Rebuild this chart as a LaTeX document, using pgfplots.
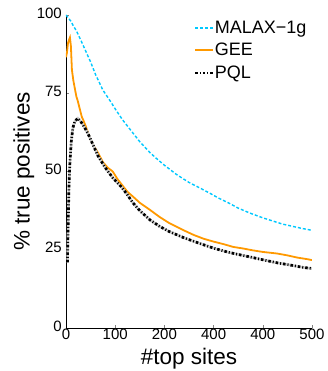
\documentclass[border=0pt]{standalone}
\usepackage{fontspec}
\setmainfont{Liberation Sans}
\usepackage{pgfplots}
\pgfplotsset{compat=1.18}
\definecolor{malax}{RGB}{0,200,255}
\definecolor{gee}{RGB}{255,153,0}
\begin{document}
\begin{tikzpicture}
\path[use as bounding box] (-66pt,-43pt) rectangle (261pt,328pt);
\begin{axis}[
  at={(0,0)}, anchor=south west,
  scale only axis, width=246pt, height=313pt,
  xmin=0, xmax=500, ymin=0, ymax=100,
  axis lines=left, axis line style={-, line width=0.8pt},
  xtick={0,100,200,300,400,500}, xticklabels={0,100,200,400,400,500},
  ytick={0,25,50,75,100},
  tick align=inside, major tick length=3pt,
  tick label style={font=\fontsize{15}{15}\selectfont},
  xticklabel style={inner sep=1pt},
  yticklabel style={inner sep=2pt, xshift=-2pt, yshift=2pt},
  /pgf/number format/assume math mode=true,
  xlabel={\#top sites}, ylabel={\% true positives},
  label style={font=\fontsize{22.5}{22.5}\selectfont},
  xlabel style={at={(axis description cs:0.5,-0.097)}, anchor=center},
  ylabel style={at={(axis description cs:-0.171,0.5)}, anchor=center},
  legend style={at={(axis description cs:0.52,0.985)}, anchor=north west,
    draw=none, fill=none, font=\fontsize{18}{18}\selectfont, inner sep=0pt,
    row sep=6.5pt, nodes={inner sep=1pt}},
  legend cell align=left,
]
\addplot[malax, line width=1.4pt, dash pattern=on 3pt off 2pt] coordinates {
(0,100)(5,99)(10,98)(15,96.5)(21,95)(30,92)(40,88.5)(50,85)(60,81)(75,76)(90,72.5)(100,70)(115,66.5)(125,64.5)(140,61.5)(150,59.5)(171,56)(185,54)(200,52)(225,49)(250,46.5)(275,44.5)(293,43)(310,41.5)(330,40)(350,38.3)(374,36.7)(400,35.2)(420,34.2)(440,33.2)(460,32.5)(480,31.8)(500,31.2)};
\addlegendentry{MALAX\textminus1g}
\addplot[gee, line width=1.8pt] coordinates {
(0,86.5)(2,88)(4,91)(6,92)(8,92.8)(10,90)(12,82.5)(15,79)(21,74)(24,72.5)(28,70)(32,67.5)(35,66.5)(40,64.5)(49,60.5)(57,58)(65,56)(75,53)(85,51.2)(95,50)(105,47.5)(115,45.5)(125,43.5)(136,42)(150,40)(171,37.7)(190,35.5)(210,33.5)(238,31.3)(260,29.7)(280,28.5)(300,27.6)(320,26.8)(340,25.9)(360,25.4)(380,24.8)(400,24.3)(429,23.8)(450,23.2)(470,22.5)(490,22)(500,21.7)};
\addlegendentry{GEE}
\addplot[gray!40, line width=2.5pt, forget plot] coordinates {
(3,21)(4,30)(6,45)(8,53)(11,60)(14,64)(18,66)(24,67)(30,66)(38,64)(45,62)(55,58.5)(65,55)(79,51.4)(95,48)(113,45)(125,42.5)(136,40)(150,37.5)(171,34.5)(190,32.5)(210,30.8)(240,28.8)(272,27)(300,25.5)(330,24.2)(350,23.5)(374,22.7)(400,21.8)(430,20.8)(460,20)(480,19.4)(500,19)};
\addplot[black, line width=2.7pt, dash pattern=on 2.5pt off 2pt on 1pt off 2pt] coordinates {
(3,21)(4,30)(6,45)(8,53)(11,60)(14,64)(18,66)(24,67)(30,66)(38,64)(45,62)(55,58.5)(65,55)(79,51.4)(95,48)(113,45)(125,42.5)(136,40)(150,37.5)(171,34.5)(190,32.5)(210,30.8)(240,28.8)(272,27)(300,25.5)(330,24.2)(350,23.5)(374,22.7)(400,21.8)(430,20.8)(460,20)(480,19.4)(500,19)};
\addlegendentry{PQL}
\end{axis}
\end{tikzpicture}
\end{document}
